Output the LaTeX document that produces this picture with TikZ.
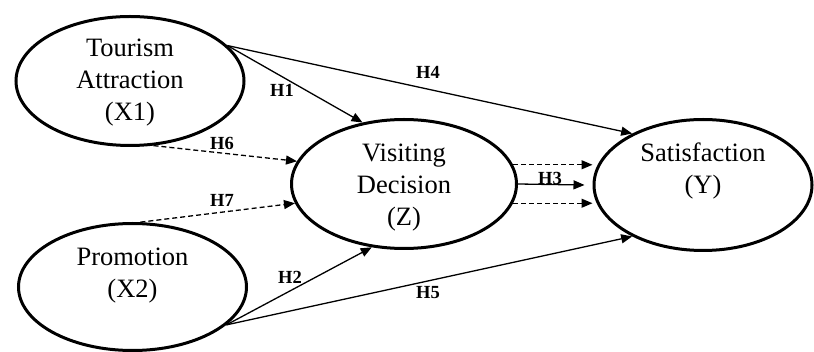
\documentclass[tikz,border=0pt]{standalone}
\usepackage{fontspec}
\setmainfont{Liberation Serif}
\usetikzlibrary{shapes.geometric,arrows.meta}

\tikzset{
  latent/.style={ellipse, draw, line width=3pt, inner sep=0pt},
  vartext/.style={font=\fontsize{26.5}{32}\selectfont, align=center, inner sep=0pt},
  hyp/.style={font=\bfseries\fontsize{18.5}{20}\selectfont, inner sep=0pt},
  effect/.style={-{Triangle[length=11pt,width=9pt]}, line width=1.3pt},
  indirect/.style={effect, dashed, dash pattern=on 5pt off 3pt},
}

\begin{document}
\begin{tikzpicture}[x=1pt,y=-1pt]
  \useasboundingbox (0,0) rectangle (814,352);

  % constructs
  \node[latent, minimum width=228pt, minimum height=129pt,
        label={[vartext, yshift=-2pt]center:Tourism\\Attraction\\(X1)}] (x1) at (130,81) {};
  \node[latent, minimum width=228pt, minimum height=127pt,
        label={[vartext, yshift=11pt]center:Promotion\\(X2)}] (x2) at (132.5,287) {};
  \node[latent, minimum width=225pt, minimum height=129pt,
        label={[vartext, yshift=-4pt]center:Visiting\\Decision\\(Z)}] (z) at (404,184) {};
  \node[latent, minimum width=218pt, minimum height=131pt,
        label={[vartext, yshift=14pt]center:Satisfaction\\(Y)}] (y) at (703,185) {};

  % direct effects
  \draw[effect] (x1.20) -- (z.124);
  \draw[effect] (x1.20) -- (y.144);
  \draw[effect] (x2.-22) -- (z.243);
  \draw[effect] (x2.-22) -- (y.216);
  \draw[effect] (z.east) -- ([xshift=-8pt]y.west);

  % mediated effects
  \draw[indirect] (x1.-70) -- (z.168);
  \draw[indirect] (x2.83) -- (z.190);
  \draw[indirect] (z.10) -- (z.10 -| y.west);
  \draw[indirect] (z.-10) -- (z.-10 -| y.west);

  % hypothesis labels
  \node[hyp] (h1) at (282,90) {H1};
  \node[hyp] (h4) at (428,72) {H4};
  \node[hyp] (h6) at (222,143) {H6};
  \node[hyp] (h7) at (222,200) {H7};
  \node[hyp] (h2) at (290,277) {H2};
  \node[hyp] (h5) at (428,293) {H5};
  \node[hyp] (h3) at (550,178) {H3};
\end{tikzpicture}
\end{document}
